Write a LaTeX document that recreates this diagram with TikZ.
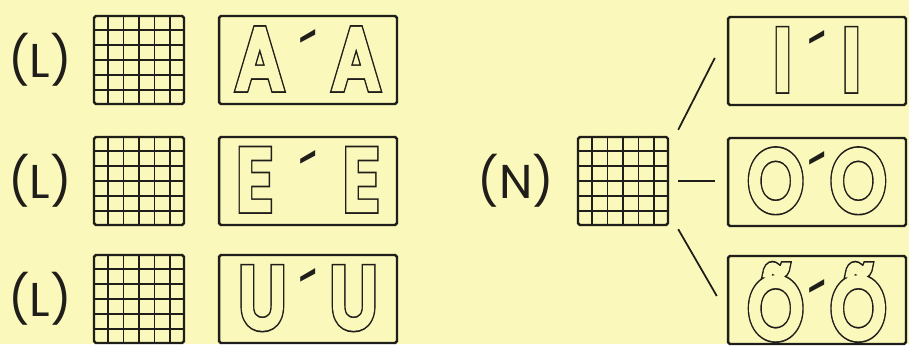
\documentclass[tikz,border=0pt]{standalone}
\usepackage{fontspec}
\usetikzlibrary{calc}
\newfontfamily\geo{Poppins}
\newfontfamily\geofat{Poppins}[FakeBold=11]
\newfontfamily\geomid{Poppins}[FakeBold=7]
\definecolor{paper}{RGB}{250,248,186}
\definecolor{ink}{RGB}{32,30,26}
% hollow letter: fat ink copy under a thinner paper copy
\newcommand\hollow[1]{\scalebox{.82}[1]{\rlap{\color{ink}\geofat #1}{\color{paper}\geomid #1}}}
\newcommand\pair[2]{\makebox[#1]{\hollow{#2}\hfill{\color{ink}\fontsize{40}{40}\selectfont\raisebox{2pt}{´}}\hfill\hollow{#2}}}
\tikzset{
  gridbox/.style={draw=ink, line width=1.4pt, rounded corners=1pt, minimum width=1.8cm, minimum height=1.76cm, inner sep=0pt},
  wordbox/.style={draw=ink, line width=1.4pt, rounded corners=1pt, minimum width=3.56cm, minimum height=1.76cm, inner sep=0pt, text height=1.18cm, text depth=0.05cm, font=\geo\fontsize{48}{48}\selectfont},
  tag/.style={text=ink, font=\geo\fontsize{27}{27}\selectfont},
  link/.style={draw=ink, line width=1pt}
}
\begin{document}
\begin{tikzpicture}[x=0.02cm,y=-0.02cm]
  \fill[paper] (0,0) rectangle (909,344);
  % left column
  \foreach \n/\y/\w in {A/60/2.86cm, E/181/2.84cm, U/299/2.76cm} {
    \node[tag] (t\n) at (40,\y) {(L)};
    \node[gridbox] (g\n) at (139,\y) {};
    \node[wordbox] (w\n) at (308,\y) {\pair{\w}{\n}};
  }
  % right group
  \node[tag] (tN) at (516,181) {(N)};
  \node[gridbox] (gN) at (623,181) {};
  \node[wordbox] (wI) at (817,61) {\pair{1.72cm}{I}};
  \node[wordbox] (wO) at (817,182) {\pair{2.74cm}{O}};
  \node[wordbox, text height=1.51cm, text depth=0pt] (wOt) at (817,300) {\pair{2.74cm}{Õ}};
  \foreach \g in {gA,gE,gU,gN} \foreach \i in {1,...,5} {
    \draw[ink, line width=1pt] ($(\g.north west)!\i/6!(\g.north east)$) -- ($(\g.south west)!\i/6!(\g.south east)$);
    \draw[ink, line width=1pt] ($(\g.north west)!\i/6!(\g.south west)$) -- ($(\g.north east)!\i/6!(\g.south east)$);
  }
  \draw[link] ([shift={(9,-6)}]gN.north east) -- ([shift={(-12,-3)}]wI.west);
  \draw[link] ([shift={(9,0)}]gN.east) -- ([shift={(-12,-1)}]wO.west);
  \draw[link] ([shift={(9,3)}]gN.south east) -- ([shift={(-10,-4)}]wOt.west);
\end{tikzpicture}
\end{document}
